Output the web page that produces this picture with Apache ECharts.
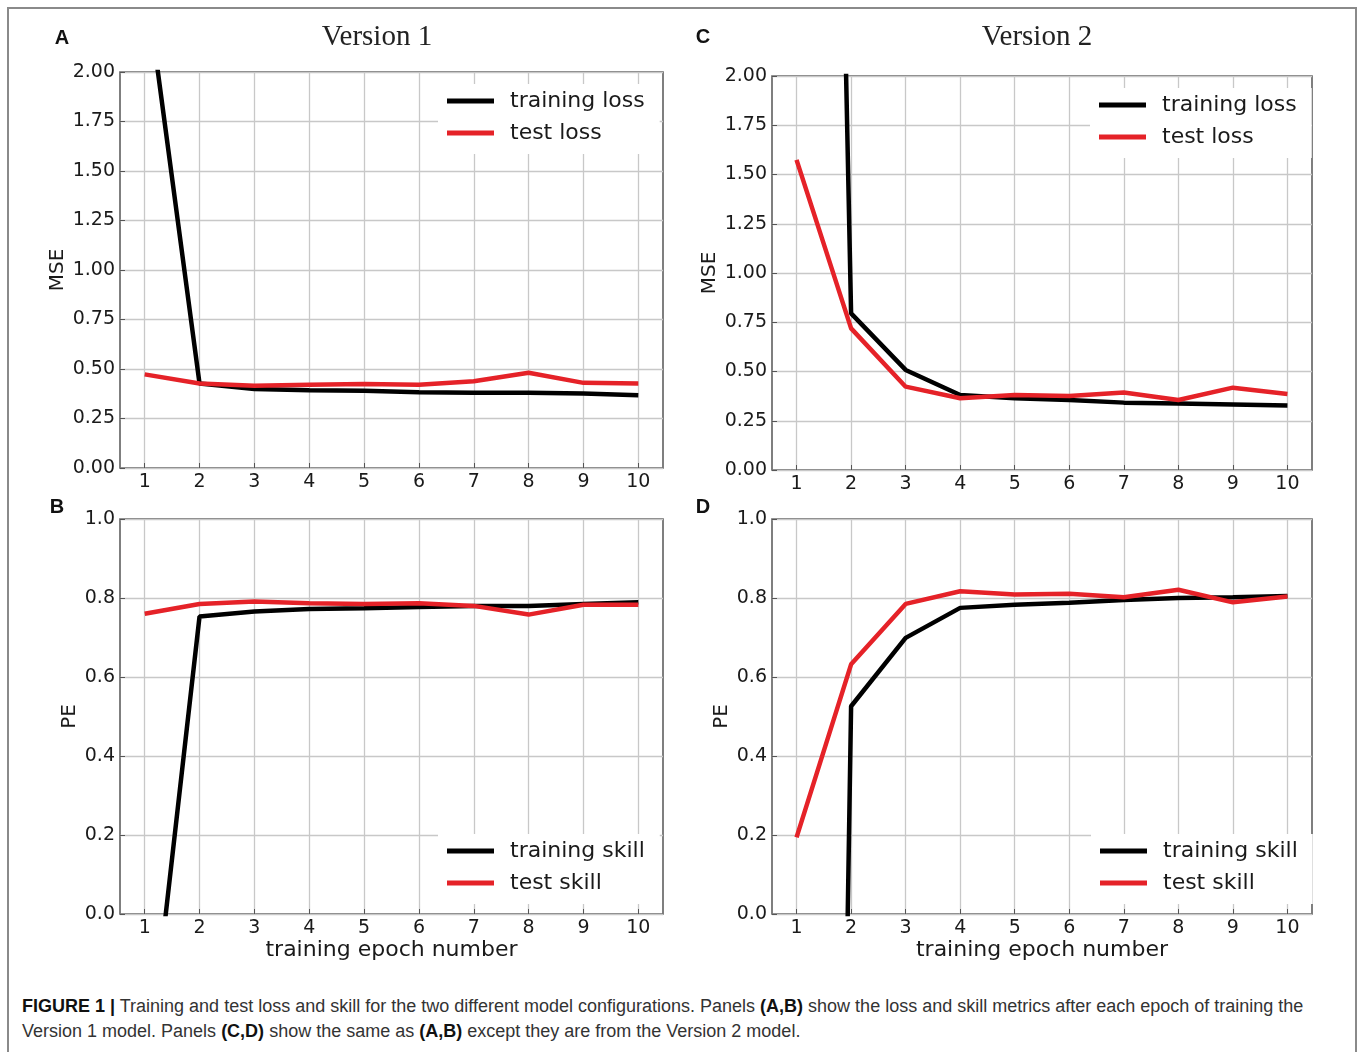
<!DOCTYPE html>
<html>
<head>
<meta charset="utf-8">
<script src="https://cdn.jsdelivr.net/npm/echarts@6/dist/echarts.min.js"></script>
<style>
  body { margin: 0; background: #fff; }
  #frame { position: absolute; left: 7px; top: 7px; width: 1350px; height: 1100px; border: 2px solid #8a8a8a; box-sizing: border-box; }
  #chart { position: absolute; left: 0; top: 0; width: 1358px; height: 975px; }
  #caption { position: absolute; left: 22px; top: 994px; width: 1330px; font-family: 'Liberation Sans', Arial, sans-serif; font-size: 18px; line-height: 25px; color: #333; white-space: nowrap; }
  #caption b { color: #111; }
</style>
</head>
<body>
<div id="frame"></div>
<div id="chart"></div>
<div id="caption"><b>FIGURE 1 |</b> Training and test loss and skill for the two different model configurations. Panels <b>(A,B)</b> show the loss and skill metrics after each epoch of training the<br>Version 1 model. Panels <b>(C,D)</b> show the same as <b>(A,B)</b> except they are from the Version 2 model.</div>
<script>
/* ---------- data ---------- */
const epochs = [1, 2, 3, 4, 5, 6, 7, 8, 9, 10];

// Version 1
const v1TrainLoss = [2.5, 0.427, 0.399, 0.393, 0.39, 0.383, 0.38, 0.38, 0.376, 0.368];
const v1TestLoss = [0.473, 0.427, 0.416, 0.42, 0.424, 0.42, 0.438, 0.481, 0.43, 0.427];
const v1TrainSkill = [-0.47, 0.753, 0.766, 0.772, 0.774, 0.777, 0.78, 0.78, 0.785, 0.789];
const v1TestSkill = [0.76, 0.785, 0.791, 0.787, 0.785, 0.787, 0.78, 0.758, 0.783, 0.783];

// Version 2
const v2TrainLoss = [14, 0.795, 0.508, 0.381, 0.364, 0.355, 0.342, 0.338, 0.333, 0.327];
const v2TestLoss = [1.574, 0.719, 0.423, 0.364, 0.381, 0.376, 0.393, 0.355, 0.418, 0.386];
const v2TrainSkill = [-8, 0.526, 0.699, 0.775, 0.783, 0.788, 0.795, 0.8, 0.802, 0.805];
const v2TestSkill = [0.194, 0.632, 0.785, 0.817, 0.809, 0.811, 0.802, 0.821, 0.789, 0.804];

const BLACK = '#000';
const RED = '#e52228';
const FONT = 'DejaVu Sans';

/* ---------- panel layout ---------- */
const panels = [
  { grid: { left: 120, top: 72, width: 543, height: 396 }, ymax: 2, step: 0.25, digits: 2, name: 'MSE', gap: 52,
    train: v1TrainLoss, test: v1TestLoss, labels: ['training loss', 'test loss'], legend: { left: 438, top: 84 } },
  { grid: { left: 120, top: 519, width: 543, height: 395 }, ymax: 1, step: 0.2, digits: 1, name: 'PE', gap: 40,
    train: v1TrainSkill, test: v1TestSkill, labels: ['training skill', 'test skill'], legend: { left: 438, top: 834 }, xname: true },
  { grid: { left: 772, top: 76, width: 540, height: 394 }, ymax: 2, step: 0.25, digits: 2, name: 'MSE', gap: 52,
    train: v2TrainLoss, test: v2TestLoss, labels: ['training loss', 'test loss'], legend: { left: 1090, top: 88 } },
  { grid: { left: 772, top: 519, width: 540, height: 395 }, ymax: 1, step: 0.2, digits: 1, name: 'PE', gap: 40,
    train: v2TrainSkill, test: v2TestSkill, labels: ['training skill', 'test skill'], legend: { left: 1091, top: 834 }, xname: true },
];

const pairs = (ys) => epochs.map((x, i) => [x, ys[i]]);

const option = {
  animation: false,
  grid: panels.map((p) => ({ ...p.grid, show: true, borderColor: '#555', borderWidth: 1.5, containLabel: false })),
  xAxis: panels.map((p, i) => ({
    gridIndex: i,
    type: 'value',
    min: 0.55,
    max: 10.45,
    axisLine: { show: false },
    axisTick: { show: true, inside: true, length: 5, customValues: epochs, lineStyle: { color: '#555' } },
    axisLabel: { customValues: epochs, margin: 5, fontSize: 19, color: '#1a1a1a', fontFamily: FONT },
    splitLine: { show: true, lineStyle: { color: '#c8c8c8', width: 1.3 } },
    name: p.xname ? 'training epoch number' : '',
    nameLocation: 'middle',
    nameGap: 25,
    nameTextStyle: { fontSize: 22, color: '#1a1a1a', fontFamily: FONT },
  })),
  yAxis: panels.map((p, i) => ({
    gridIndex: i,
    type: 'value',
    min: 0,
    max: p.ymax,
    interval: p.step,
    axisLine: { show: false },
    axisTick: { show: true, inside: true, length: 5, lineStyle: { color: '#555' } },
    axisLabel: { margin: 5, fontSize: 19, color: '#1a1a1a', fontFamily: FONT, formatter: (v) => v.toFixed(p.digits) },
    splitLine: { show: true, lineStyle: { color: '#c8c8c8', width: 1.3 } },
    name: p.name,
    nameLocation: 'middle',
    nameRotate: 90,
    nameGap: p.gap,
    nameTextStyle: { fontSize: 20, color: '#1a1a1a', fontFamily: FONT },
  })),
  legend: panels.map((p) => ({
    orient: 'vertical',
    left: p.legend.left,
    top: p.legend.top,
    data: p.labels,
    icon: 'rect',
    itemWidth: 47,
    itemHeight: 5,
    itemGap: 6,
    padding: [4, 15, 8, 9],
    backgroundColor: '#fff',
    selectedMode: false,
    textStyle: { fontSize: 22, lineHeight: 26, color: '#1a1a1a', fontFamily: FONT, padding: [0, 0, 0, 11] },
  })),
  series: panels.flatMap((p, i) => [
    {
      name: p.labels[0], type: 'line', xAxisIndex: i, yAxisIndex: i, data: pairs(p.train),
      symbol: 'none', lineStyle: { color: BLACK, width: 4.5 }, itemStyle: { color: BLACK },
    },
    {
      name: p.labels[1], type: 'line', xAxisIndex: i, yAxisIndex: i, data: pairs(p.test),
      symbol: 'none', lineStyle: { color: RED, width: 4.5 }, itemStyle: { color: RED },
    },
  ]),
  graphic: [
    { type: 'text', x: 62, y: 38, style: { text: 'A', font: 'bold 20px "Liberation Sans"', fill: '#111', align: 'center', verticalAlign: 'middle' } },
    { type: 'text', x: 57, y: 507, style: { text: 'B', font: 'bold 20px "Liberation Sans"', fill: '#111', align: 'center', verticalAlign: 'middle' } },
    { type: 'text', x: 703, y: 37, style: { text: 'C', font: 'bold 20px "Liberation Sans"', fill: '#111', align: 'center', verticalAlign: 'middle' } },
    { type: 'text', x: 703, y: 507, style: { text: 'D', font: 'bold 20px "Liberation Sans"', fill: '#111', align: 'center', verticalAlign: 'middle' } },
    { type: 'text', x: 377, y: 37, style: { text: 'Version 1', font: '29px "Liberation Serif"', fill: '#222', align: 'center', verticalAlign: 'middle' } },
    { type: 'text', x: 1037, y: 37, style: { text: 'Version 2', font: '29px "Liberation Serif"', fill: '#222', align: 'center', verticalAlign: 'middle' } },
  ],
};

const chart = echarts.init(document.getElementById('chart'));
chart.setOption(option);
</script>
</body>
</html>
